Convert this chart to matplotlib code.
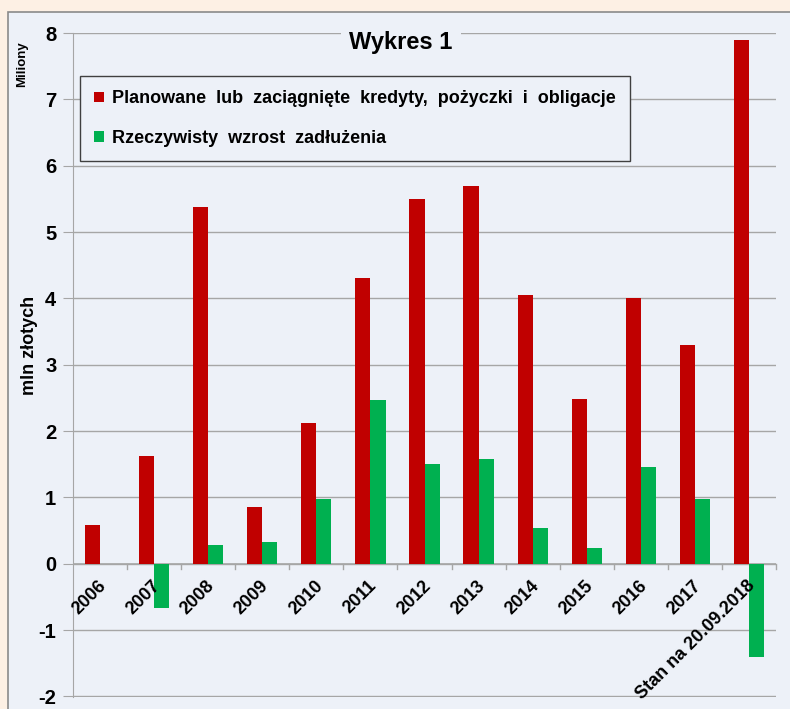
import numpy as np
import matplotlib.pyplot as plt
from matplotlib.patches import Rectangle

# data (mln zł)
categories = ['2006', '2007', '2008', '2009', '2010', '2011', '2012', '2013',
              '2014', '2015', '2016', '2017', 'Stan na 20.09.2018']
planned = [0.58, 1.63, 5.37, 0.85, 2.12, 4.30, 5.50, 5.70, 4.05, 2.48, 4.00, 3.29, 7.90]
actual = [0.0, -0.67, 0.28, 0.32, 0.97, 2.47, 1.50, 1.58, 0.54, 0.23, 1.46, 0.97, -1.40]
series_names = ['Planowane  lub  zaciągnięte  kredyty,  pożyczki  i  obligacje',
                'Rzeczywisty  wzrost  zadłużenia']

red = '#C00000'
green = '#00B050'
panel = '#EDF1F8'

plt.rcParams['font.family'] = ['Liberation Sans', 'DejaVu Sans']

fig = plt.figure(figsize=(7.9, 7.09), dpi=100)
fig.patch.set_facecolor('#FDF0E4')
# chart area panel
fig.patches.append(Rectangle((8 / 790, -0.01), 1.0, 1 - 12 / 709 + 0.01,
                             transform=fig.transFigure, facecolor=panel,
                             edgecolor='#8A8A8A', linewidth=1.2, zorder=-5))

ax = fig.add_axes([73 / 790, 1 - 697 / 709, (776 - 73) / 790, (697 - 33) / 709])
ax.set_zorder(2)
ax.set_facecolor(panel)

x = np.arange(len(categories))
w = 0.28
ax.bar(x - w / 2, planned, width=w, color=red, label=series_names[0], zorder=3)
ax.bar(x + w / 2, actual, width=w, color=green, label=series_names[1], zorder=3)

ax.set_xlim(-0.5, len(categories) - 0.5)
ax.set_ylim(-2.01, 8)
ax.set_yticks(range(-2, 9))
ax.set_yticklabels([str(v) for v in range(-2, 9)], fontsize=14.5, fontweight='bold')
ax.yaxis.grid(True, color='#A6A6A6', linewidth=1)
ax.set_axisbelow(True)
ax.tick_params(axis='y', length=7, color='#A6A6A6', pad=5)

for s in ['top', 'right', 'bottom']:
    ax.spines[s].set_visible(False)
ax.spines['left'].set_color('#A6A6A6')
ax.axhline(0, color='#A6A6A6', linewidth=1.2, zorder=2)

# x ticks at category boundaries on zero line
ax.set_xticks([])
for b in np.arange(0.5, len(categories) + 0.5, 1.0):
    ax.plot([b, b], [0, -0.08], color='#A6A6A6', linewidth=1, zorder=2, clip_on=False)
for i, c in enumerate(categories):
    ax.text(i - 0.04, -0.2, c, rotation=45, ha='right', va='top',
            rotation_mode='anchor', fontsize=13, fontweight='bold', zorder=4)

ax.set_ylabel('mln złotych', fontsize=13, fontweight='bold')
ax.yaxis.set_label_coords(-0.05, 0.53)
fig.text(22 / 790, 1 - 64 / 709, 'Miliony', rotation=90, ha='center', va='center',
         fontsize=9.5, fontweight='bold')

ax.text(0.466, 7.85, 'Wykres 1', ha='center', va='center', fontsize=17, fontweight='bold',
        transform=ax.get_yaxis_transform(),
        bbox=dict(facecolor=panel, edgecolor='none', pad=6), zorder=5)

leg = ax.legend(loc='upper left', bbox_to_anchor=(7 / 703, 1 - 43 / 664),
                prop={'weight': 'bold', 'size': 13}, frameon=True, fancybox=False,
                handlelength=0.55, handleheight=0.55, handletextpad=0.4,
                labelspacing=1.25, borderpad=0.8, borderaxespad=0)
leg.get_frame().set_facecolor(panel)
leg.get_frame().set_edgecolor('#404040')
leg.get_frame().set_linewidth(1)
leg.get_frame().set_alpha(1)

fig.savefig('out.png', dpi=100, facecolor=fig.get_facecolor())
